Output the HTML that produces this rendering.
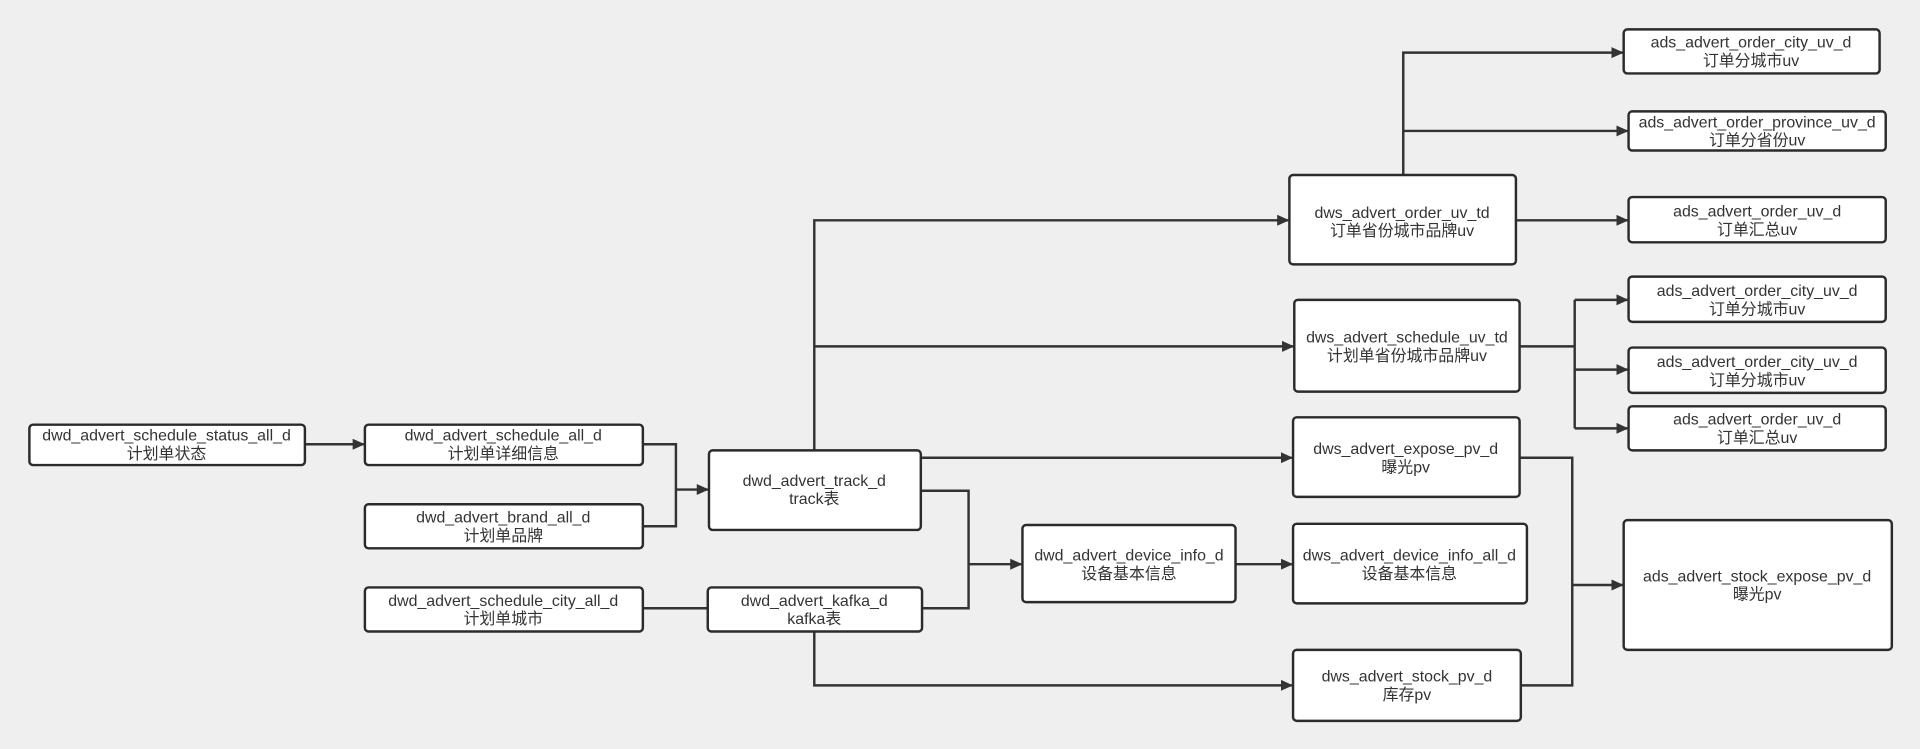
<!DOCTYPE html>
<html><head><meta charset="utf-8"><style>
html,body{margin:0;padding:0;background:#efefef;}
svg{display:block}
text{font-family:"Liberation Sans","Noto Sans CJK SC",sans-serif;font-size:13px;fill:#333;text-anchor:middle}
rect{fill:#fff;stroke:#2b2b2b;stroke-width:2}
.l{fill:none;stroke:#333;stroke-width:2}
</style></head><body>
<svg width="1920" height="749" viewBox="0 0 1568 612" preserveAspectRatio="none" xmlns="http://www.w3.org/2000/svg">
<defs><marker id="a" markerWidth="10" markerHeight="10" refX="9" refY="5" orient="auto" markerUnits="userSpaceOnUse"><path d="M0,0.5 L10,5 L0,9.5z" fill="#333"/></marker></defs>
<rect x="0" y="0" width="1568" height="612" style="fill:#efefef;stroke:none"/>
<g class="c">
<path class="l" d="M249,363 H297" marker-end="url(#a)"/>
<path class="l" d="M525,363 H552 V430 H525 M552,400 H578" marker-end="url(#a)"/>
<path class="l" d="M525,497 H578"/>
<path class="l" d="M665,368 V180 H1052" marker-end="url(#a)"/>
<path class="l" d="M665,283 H1056" marker-end="url(#a)"/>
<path class="l" d="M752,374 H1055" marker-end="url(#a)"/>
<path class="l" d="M752,401 H791 V497 H753"/>
<path class="l" d="M791,461 H834" marker-end="url(#a)"/>
<path class="l" d="M665,516 V560 H1055" marker-end="url(#a)"/>
<path class="l" d="M1009,461 H1055" marker-end="url(#a)"/>
<path class="l" d="M1146,143 V43 H1325" marker-end="url(#a)"/>
<path class="l" d="M1146,107 H1329" marker-end="url(#a)"/>
<path class="l" d="M1238,180 H1329" marker-end="url(#a)"/>
<path class="l" d="M1241,283 H1286"/>
<path class="l" d="M1286,245 V350"/>
<path class="l" d="M1286,245 H1329" marker-end="url(#a)"/>
<path class="l" d="M1286,302 H1329" marker-end="url(#a)"/>
<path class="l" d="M1286,350 H1329" marker-end="url(#a)"/>
<path class="l" d="M1241,374 H1284 V560 H1242"/>
<path class="l" d="M1284,478 H1325" marker-end="url(#a)"/>
</g>
<g>
<rect x="24" y="347" width="225" height="33" rx="3"/><text x="136" y="360">dwd_advert_schedule_status_all_d</text><text x="136" y="375">计划单状态</text>
<rect x="298" y="347" width="227" height="33" rx="3"/><text x="411" y="360">dwd_advert_schedule_all_d</text><text x="411" y="375">计划单详细信息</text>
<rect x="298" y="412" width="227" height="36" rx="3"/><text x="411" y="427">dwd_advert_brand_all_d</text><text x="411" y="442">计划单品牌</text>
<rect x="298" y="480" width="227" height="36" rx="3"/><text x="411" y="495">dwd_advert_schedule_city_all_d</text><text x="411" y="510">计划单城市</text>
<rect x="579" y="368" width="173" height="65" rx="3"/><text x="665" y="397">dwd_advert_track_d</text><text x="665" y="412">track表</text>
<rect x="578" y="480" width="175" height="36" rx="3"/><text x="665" y="495">dwd_advert_kafka_d</text><text x="665" y="510">kafka表</text>
<rect x="835" y="429" width="174" height="63" rx="3"/><text x="922" y="458">dwd_advert_device_info_d</text><text x="922" y="473">设备基本信息</text>
<rect x="1053" y="143" width="185" height="73" rx="3"/><text x="1145" y="178">dws_advert_order_uv_td</text><text x="1145" y="193">订单省份城市品牌uv</text>
<rect x="1057" y="245" width="184" height="75" rx="3"/><text x="1149" y="280">dws_advert_schedule_uv_td</text><text x="1149" y="295">计划单省份城市品牌uv</text>
<rect x="1056" y="341" width="185" height="65" rx="3"/><text x="1148" y="371">dws_advert_expose_pv_d</text><text x="1148" y="386">曝光pv</text>
<rect x="1056" y="428" width="191" height="65" rx="3"/><text x="1151" y="458">dws_advert_device_info_all_d</text><text x="1151" y="473">设备基本信息</text>
<rect x="1056" y="531" width="186" height="58" rx="3"/><text x="1149" y="557">dws_advert_stock_pv_d</text><text x="1149" y="572">库存pv</text>
<rect x="1326" y="24" width="209" height="36" rx="3"/><text x="1430" y="39">ads_advert_order_city_uv_d</text><text x="1430" y="54">订单分城市uv</text>
<rect x="1330" y="91" width="210" height="32" rx="3"/><text x="1435" y="104">ads_advert_order_province_uv_d</text><text x="1435" y="119">订单分省份uv</text>
<rect x="1330" y="161" width="210" height="37" rx="3"/><text x="1435" y="177">ads_advert_order_uv_d</text><text x="1435" y="192">订单汇总uv</text>
<rect x="1330" y="226" width="210" height="37" rx="3"/><text x="1435" y="242">ads_advert_order_city_uv_d</text><text x="1435" y="257">订单分城市uv</text>
<rect x="1330" y="284" width="210" height="37" rx="3"/><text x="1435" y="300">ads_advert_order_city_uv_d</text><text x="1435" y="315">订单分城市uv</text>
<rect x="1330" y="332" width="210" height="36" rx="3"/><text x="1435" y="347">ads_advert_order_uv_d</text><text x="1435" y="362">订单汇总uv</text>
<rect x="1326" y="425" width="219" height="106" rx="3"/><text x="1435" y="475">ads_advert_stock_expose_pv_d</text><text x="1435" y="490">曝光pv</text>
</g>
</svg>
</body></html>
